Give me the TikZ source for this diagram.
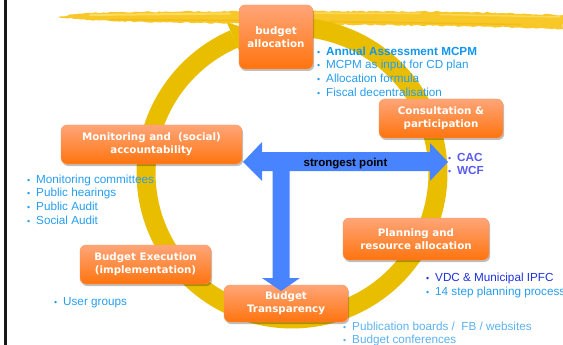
\documentclass[tikz,border=0pt]{standalone}
\usepackage{fontspec}
\usepackage{graphicx}
\setmainfont{Liberation Sans}
\newfontfamily\stagefont{DejaVu Sans}
\usetikzlibrary{shadows,calc,decorations.pathmorphing}

\definecolor{ringcol}{RGB}{234,190,0}
\definecolor{arrowblue}{RGB}{72,132,255}
\definecolor{stagetop}{RGB}{255,165,120}
\definecolor{stagebot}{RGB}{255,116,14}
\definecolor{stageedge}{RGB}{255,150,90}
\definecolor{listblue}{RGB}{38,158,240}
\definecolor{listbold}{RGB}{18,150,238}
\definecolor{violetblue}{RGB}{90,90,240}
\definecolor{darkblue}{RGB}{30,50,220}
\definecolor{paleblue}{RGB}{92,178,240}
\definecolor{brush}{RGB}{248,200,40}
\definecolor{brushlight}{RGB}{252,224,110}
\definecolor{brushdark}{RGB}{238,182,10}

\newcommand\blt{\makebox[9pt][l]{\scalebox{0.75}{•}}}

\tikzset{
  stage/.style={rounded corners=6pt, top color=stagetop, bottom color=stagebot,
    draw=stageedge, line width=0.4pt,
    drop shadow={shadow xshift=1.2pt, shadow yshift=-2pt, opacity=0.25, fill=black},
    text=white, align=center, inner sep=0pt,
    font=\stagefont\bfseries\fontsize{10.3}{13}\selectfont},
  item/.style={anchor=base west, inner sep=0pt, font=\fontsize{11.7}{13.6}\selectfont},
  ringline/.style={draw=ringcol, line width=19pt},
}

\begin{document}
\begin{tikzpicture}[x=1pt, y=-1pt]
  \useasboundingbox (0,0) rectangle (563,345);
  \fill[white] (0,0) rectangle (563,345);

  % left page rule
  \draw[line width=2.6pt, black!90] (5.5,0) -- (5.5,345);

  % highlighter stroke across the top
  \fill[brush, decorate, decoration={random steps, segment length=3pt, amplitude=0.7pt}]
    (58,17) -- (80,13.5) -- (120,12) -- (200,11.5) -- (300,11) -- (420,11.5)
    -- (500,13) -- (563,15) -- (563,29) -- (500,27) -- (420,25.5) -- (300,24)
    -- (200,23) -- (120,21.5) -- (80,19.5) -- cycle;
  \draw[brushlight, line width=2pt, opacity=0.8, line cap=round] (90,15) -- (230,13.5);
  \draw[brushlight, line width=1.5pt, opacity=0.7, line cap=round] (260,13) -- (420,13.5);
  \draw[brushlight, line width=1.5pt, opacity=0.7, line cap=round] (440,14.5) -- (560,17);
  \draw[brushdark, line width=1.5pt, opacity=0.6, line cap=round] (110,19.5) -- (240,20.5);
  \draw[brushdark, line width=1.5pt, opacity=0.6, line cap=round] (330,21.5) -- (520,24.5);

  % cycle ring with its arrow head
  \begin{scope}[shift={(292,173)}]
    \draw[ringline] plot[domain=-95:246.6, samples=160] (\x:146);
    \fill[ringcol] (246.6:128) -- (246.6:164) -- (253:151) -- cycle;
  \end{scope}

  % stages
  \node[stage, minimum width=74pt, minimum height=64pt] (alloc) at (276,37) {budget\\allocation};
  \node[stage, minimum width=124pt, minimum height=39pt] (consult) at (441,118.5) {Consultation \&\\participation};
  \node[stage, minimum width=181pt, minimum height=39pt] (monitor) at (151.5,144.5) {Monitoring and~~(social)\\accountability};
  \node[stage, minimum width=146pt, minimum height=42pt] (plan) at (416,239) {Planning and\\resource allocation};
  \node[stage, minimum width=131pt, minimum height=39pt] (exec) at (145.5,264.5) {Budget Execution\\(implementation)};
  \node[stage, minimum width=124pt, minimum height=37pt] (transp) at (286,303.5) {Budget\\Transparency};

  % T-shaped arrow: two-way across, one way down
  \coordinate (hub) at (281,161.5);
  \fill[arrowblue] (hub)
    ++(-38,0.5) -- ++(19,-20) -- ++(0,10) -- (430,152) -- (430,143) -- (448,162)
    -- (430,181) -- (430,171) -- (289.5,171) -- (289.5,278) -- (300,278) -- (281,291)
    -- (262,278) -- (272.5,278) -- (272.5,171) -- (262,171) -- (262,181) -- cycle;
  \node[anchor=base, inner sep=0pt, font=\fontsize{11.5}{13}\selectfont\bfseries] (strong) at (345.5,166.5) {strongest point};

  % notes beside the stages
  \node[item, text=listbold] (n1) at (317,55.5) {\blt\textbf{Annual Assessment MCPM}};
  \node[item, text=listblue] (n2) at (317,69) {\blt MCPM as input for CD plan};
  \node[item, text=listblue] (n3) at (317,82.5) {\blt Allocation formula};
  \node[item, text=listblue] (n4) at (317,96) {\blt Fiscal decentralisation};

  \node[item, text=violetblue] (c1) at (448,161) {\blt\textbf{CAC}};
  \node[item, text=violetblue] (c2) at (448,175) {\blt\textbf{WCF}};

  \node[item, text=listblue] (m1) at (27,183.3) {\blt Monitoring committees};
  \node[item, text=listblue] (m2) at (27,196.9) {\blt Public hearings};
  \node[item, text=listblue] (m3) at (27,210.5) {\blt Public Audit};
  \node[item, text=listblue] (m4) at (27,224.1) {\blt Social Audit};

  \node[item, text=listblue] (u1) at (54,305) {\blt User groups};

  \node[item, text=darkblue] (p1) at (426,281) {\blt VDC \& Municipal IPFC};
  \node[item, text=listblue] (p2) at (426,295) {\blt 14 step planning process};

  \node[item, text=paleblue] (t1) at (343,330) {\blt Publication boards /~~FB / websites};
  \node[item, text=paleblue] (t2) at (343,343.3) {\blt Budget conferences};
\end{tikzpicture}
\end{document}
